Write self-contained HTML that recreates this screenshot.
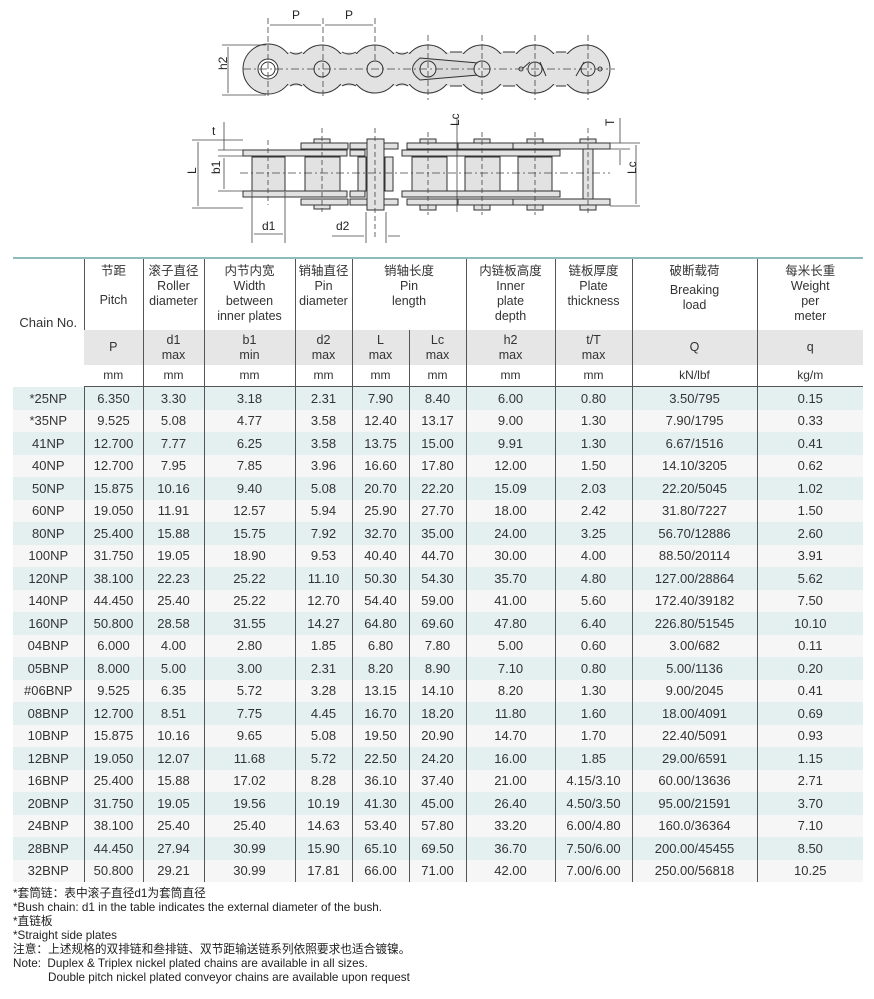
<!DOCTYPE html>
<html><head><meta charset="utf-8"><style>
body{margin:0;background:#fff;width:874px;height:999px;position:relative;overflow:hidden;font-family:"Liberation Sans","Noto Sans CJK SC",sans-serif;color:#333}
svg{position:absolute;left:0;top:0}
table{position:absolute;left:13px;top:257px;border-collapse:collapse;table-layout:fixed;width:850px;border-top:2px solid #8cbcbc}
td{padding:0;text-align:center;vertical-align:middle;border-left:1px solid #555;font-size:13px;line-height:15px;white-space:nowrap}
td:first-child{border-left:none}
.h1 td{height:72px;font-size:12.5px;line-height:15px;vertical-align:top;padding-top:5px;box-sizing:border-box}
.h2 td{height:35px;background:#e6e6e6;font-size:12.5px;line-height:15px}
.h3 td{height:21px;font-size:12px;border-bottom:1px solid #555}
tr.d td{height:22.5px}
tr.a td{background:#e4f0f0}
tr.b td{background:#f6f6f6}
.notes{position:absolute;left:13px;top:887px;font-size:11.7px;line-height:14px;color:#222}
</style></head><body>
<svg width="874" height="250" viewBox="0 0 874 250" font-family="Liberation Sans" font-size="12" fill="#222">
<g stroke="#333" stroke-width="1" fill="#e2e2e2">
<rect x="268" y="52" width="320" height="34" stroke="none"/>
<circle cx="268" cy="69" r="25"/><circle cx="322" cy="69" r="24"/><circle cx="375" cy="69" r="24"/>
<circle cx="428" cy="69" r="24"/><circle cx="482" cy="69" r="24"/><circle cx="535" cy="69" r="24"/><circle cx="586" cy="69" r="24"/>
<rect x="268" y="54" width="318" height="30" stroke="none"/>
<path d="M290 52 Q296 56 302 52 M342 52 Q349 56 356 52 M396 52 Q402 56 408 52 M450 52 L462 52 M503 52 L515 52 M556 52 L566 52" fill="none"/>
<path d="M290 86 Q296 82 302 86 M342 86 Q349 82 356 86 M396 86 Q402 82 408 86 M450 86 L462 86 M503 86 L515 86 M556 86 L566 86" fill="none"/>
<path d="M420 58 L478 63 L478 75 L420 80 Q405 69 420 58Z" fill="#d8d8d8"/>
<circle cx="268" cy="69" r="10" fill="#fff"/><circle cx="268" cy="69" r="7" fill="#fff"/>
<circle cx="322" cy="69" r="8"/><circle cx="375" cy="69" r="8"/><circle cx="428" cy="69" r="8"/><circle cx="482" cy="69" r="8"/>
<circle cx="535" cy="69" r="7"/><circle cx="588" cy="69" r="7"/>
<path d="M522 69 L530 62 M540 62 L546 76 M576 76 L584 62" fill="none"/>
<circle cx="521" cy="69" r="2" fill="#fff"/><circle cx="600" cy="69" r="2" fill="#fff"/>
</g>
<g stroke="#444" stroke-width="0.8" fill="none">
<path d="M243 69 H615" stroke-dasharray="8 3 2 3"/>
<path d="M268 18V96 M323 18V96 M375 18V60 M428 35V100 M482 35V100 M535 35V100 M588 35V100" stroke-dasharray="6 3"/>
<path d="M270 25H321 M325 25H373 M222 45H266 M222 95H266 M228 47V93"/>
</g>
<text x="292" y="19">P</text><text x="345" y="19">P</text>
<text x="222" y="75" transform="rotate(-90 222 70)">h2</text>
<g stroke="#333" stroke-width="1" fill="#e2e2e2">
<rect x="243" y="150" width="104" height="6"/><rect x="243" y="191" width="104" height="6"/>
<rect x="402" y="150" width="158" height="6"/><rect x="402" y="191" width="158" height="6"/>
<rect x="301" y="143" width="47" height="6"/><rect x="301" y="199" width="47" height="6"/>
<rect x="350" y="143" width="48" height="6"/><rect x="350" y="199" width="48" height="6"/>
<rect x="407" y="143" width="97" height="6"/><rect x="407" y="199" width="97" height="6"/>
<rect x="458" y="143" width="95" height="6"/><rect x="458" y="199" width="95" height="6"/>
<rect x="513" y="143" width="97" height="6"/><rect x="513" y="199" width="97" height="6"/>
<rect x="350" y="150" width="15" height="6"/><rect x="350" y="191" width="15" height="6"/>
<rect x="252" y="157" width="33" height="34"/><rect x="305" y="157" width="35" height="34"/>
<rect x="412" y="157" width="35" height="34"/><rect x="465" y="157" width="35" height="34"/><rect x="518" y="157" width="34" height="34"/>
<rect x="358" y="157" width="8" height="34"/><rect x="385" y="157" width="8" height="34"/>
<rect x="367" y="139" width="17" height="71"/>
<rect x="314" y="139" width="16" height="4"/><rect x="314" y="205" width="16" height="4"/>
<rect x="420" y="139" width="16" height="4"/><rect x="420" y="205" width="16" height="5"/>
<rect x="474" y="139" width="16" height="4"/><rect x="474" y="205" width="16" height="5"/>
<rect x="527" y="139" width="16" height="4"/><rect x="527" y="205" width="16" height="5"/>
<rect x="580" y="139" width="16" height="4"/><rect x="580" y="205" width="16" height="5"/>
<rect x="583" y="149" width="10" height="50"/>
</g>
<g stroke="#444" stroke-width="0.8" fill="none">
<path d="M240 173H610" stroke-dasharray="8 3 2 3"/>
<path d="M268 140V205 M322 128V212 M375 128V240 M428 132V215 M482 132V215 M535 132V215 M588 128V215" stroke-dasharray="5 3"/>
<path d="M192 140H243 M192 208H243 M198 142V206 M218 150H243 M218 156H243 M218 191H243 M224 158V189 M224 122V150 M224 158V170"/>
<path d="M252 192V243 M285 192V243 M254 234H283 M366 212V243 M386 212V243 M332 236H364 M388 236H400"/>
<path d="M457 118V212 M610 143H640 M610 206H640 M636 145V204 M620 118V143 M620 150V165 M610 149H630"/>
</g>
<text x="212" y="135">t</text>
<text x="192" y="178" transform="rotate(-90 192 174)">L</text>
<text x="216" y="178" transform="rotate(-90 216 174)">b1</text>
<text x="262" y="230">d1</text><text x="336" y="230">d2</text>
<text x="455" y="130" transform="rotate(-90 455 126)">Lc</text>
<text x="632" y="178" transform="rotate(-90 632 174)">Lc</text>
<text x="610" y="130" transform="rotate(-90 610 126)">T</text>
</svg>

<table>
<colgroup><col style="width:71px"><col style="width:59px"><col style="width:61px"><col style="width:91px"><col style="width:57px"><col style="width:57px"><col style="width:57px"><col style="width:89px"><col style="width:77px"><col style="width:125px"><col style="width:106px"></colgroup>
<tr class="h1"><td rowspan="3" style="vertical-align:middle;padding-top:0;font-size:13px">Chain No.</td>
<td>节距<br><span style="display:inline-block;margin-top:14px">Pitch</span></td><td>滚子直径<br>Roller<br>diameter</td><td>内节内宽<br>Width<br>between<br>inner plates</td><td>销轴直径<br>Pin<br>diameter</td><td colspan="2">销轴长度<br>Pin<br>length</td><td>内链板高度<br>Inner<br>plate<br>depth</td><td>链板厚度<br>Plate<br>thickness</td><td>破断载荷<br><span style="display:inline-block;margin-top:4px">Breaking<br>load</span></td><td>每米长重<br>Weight<br>per<br>meter</td></tr>
<tr class="h2"><td>P</td><td>d1<br>max</td><td>b1<br>min</td><td>d2<br>max</td><td>L<br>max</td><td>Lc<br>max</td><td>h2<br>max</td><td>t/T<br>max</td><td>Q</td><td>q</td></tr>
<tr class="h3"><td>mm</td><td>mm</td><td>mm</td><td>mm</td><td>mm</td><td>mm</td><td>mm</td><td>mm</td><td>kN/lbf</td><td>kg/m</td></tr>
<tr class="d a"><td>*25NP</td><td>6.350</td><td>3.30</td><td>3.18</td><td>2.31</td><td>7.90</td><td>8.40</td><td>6.00</td><td>0.80</td><td>3.50/795</td><td>0.15</td></tr>
<tr class="d b"><td>*35NP</td><td>9.525</td><td>5.08</td><td>4.77</td><td>3.58</td><td>12.40</td><td>13.17</td><td>9.00</td><td>1.30</td><td>7.90/1795</td><td>0.33</td></tr>
<tr class="d a"><td>41NP</td><td>12.700</td><td>7.77</td><td>6.25</td><td>3.58</td><td>13.75</td><td>15.00</td><td>9.91</td><td>1.30</td><td>6.67/1516</td><td>0.41</td></tr>
<tr class="d b"><td>40NP</td><td>12.700</td><td>7.95</td><td>7.85</td><td>3.96</td><td>16.60</td><td>17.80</td><td>12.00</td><td>1.50</td><td>14.10/3205</td><td>0.62</td></tr>
<tr class="d a"><td>50NP</td><td>15.875</td><td>10.16</td><td>9.40</td><td>5.08</td><td>20.70</td><td>22.20</td><td>15.09</td><td>2.03</td><td>22.20/5045</td><td>1.02</td></tr>
<tr class="d b"><td>60NP</td><td>19.050</td><td>11.91</td><td>12.57</td><td>5.94</td><td>25.90</td><td>27.70</td><td>18.00</td><td>2.42</td><td>31.80/7227</td><td>1.50</td></tr>
<tr class="d a"><td>80NP</td><td>25.400</td><td>15.88</td><td>15.75</td><td>7.92</td><td>32.70</td><td>35.00</td><td>24.00</td><td>3.25</td><td>56.70/12886</td><td>2.60</td></tr>
<tr class="d b"><td>100NP</td><td>31.750</td><td>19.05</td><td>18.90</td><td>9.53</td><td>40.40</td><td>44.70</td><td>30.00</td><td>4.00</td><td>88.50/20114</td><td>3.91</td></tr>
<tr class="d a"><td>120NP</td><td>38.100</td><td>22.23</td><td>25.22</td><td>11.10</td><td>50.30</td><td>54.30</td><td>35.70</td><td>4.80</td><td>127.00/28864</td><td>5.62</td></tr>
<tr class="d b"><td>140NP</td><td>44.450</td><td>25.40</td><td>25.22</td><td>12.70</td><td>54.40</td><td>59.00</td><td>41.00</td><td>5.60</td><td>172.40/39182</td><td>7.50</td></tr>
<tr class="d a"><td>160NP</td><td>50.800</td><td>28.58</td><td>31.55</td><td>14.27</td><td>64.80</td><td>69.60</td><td>47.80</td><td>6.40</td><td>226.80/51545</td><td>10.10</td></tr>
<tr class="d b"><td>04BNP</td><td>6.000</td><td>4.00</td><td>2.80</td><td>1.85</td><td>6.80</td><td>7.80</td><td>5.00</td><td>0.60</td><td>3.00/682</td><td>0.11</td></tr>
<tr class="d a"><td>05BNP</td><td>8.000</td><td>5.00</td><td>3.00</td><td>2.31</td><td>8.20</td><td>8.90</td><td>7.10</td><td>0.80</td><td>5.00/1136</td><td>0.20</td></tr>
<tr class="d b"><td>#06BNP</td><td>9.525</td><td>6.35</td><td>5.72</td><td>3.28</td><td>13.15</td><td>14.10</td><td>8.20</td><td>1.30</td><td>9.00/2045</td><td>0.41</td></tr>
<tr class="d a"><td>08BNP</td><td>12.700</td><td>8.51</td><td>7.75</td><td>4.45</td><td>16.70</td><td>18.20</td><td>11.80</td><td>1.60</td><td>18.00/4091</td><td>0.69</td></tr>
<tr class="d b"><td>10BNP</td><td>15.875</td><td>10.16</td><td>9.65</td><td>5.08</td><td>19.50</td><td>20.90</td><td>14.70</td><td>1.70</td><td>22.40/5091</td><td>0.93</td></tr>
<tr class="d a"><td>12BNP</td><td>19.050</td><td>12.07</td><td>11.68</td><td>5.72</td><td>22.50</td><td>24.20</td><td>16.00</td><td>1.85</td><td>29.00/6591</td><td>1.15</td></tr>
<tr class="d b"><td>16BNP</td><td>25.400</td><td>15.88</td><td>17.02</td><td>8.28</td><td>36.10</td><td>37.40</td><td>21.00</td><td>4.15/3.10</td><td>60.00/13636</td><td>2.71</td></tr>
<tr class="d a"><td>20BNP</td><td>31.750</td><td>19.05</td><td>19.56</td><td>10.19</td><td>41.30</td><td>45.00</td><td>26.40</td><td>4.50/3.50</td><td>95.00/21591</td><td>3.70</td></tr>
<tr class="d b"><td>24BNP</td><td>38.100</td><td>25.40</td><td>25.40</td><td>14.63</td><td>53.40</td><td>57.80</td><td>33.20</td><td>6.00/4.80</td><td>160.0/36364</td><td>7.10</td></tr>
<tr class="d a"><td>28BNP</td><td>44.450</td><td>27.94</td><td>30.99</td><td>15.90</td><td>65.10</td><td>69.50</td><td>36.70</td><td>7.50/6.00</td><td>200.00/45455</td><td>8.50</td></tr>
<tr class="d b"><td>32BNP</td><td>50.800</td><td>29.21</td><td>30.99</td><td>17.81</td><td>66.00</td><td>71.00</td><td>42.00</td><td>7.00/6.00</td><td>250.00/56818</td><td>10.25</td></tr>
</table>
<div class="notes">*套筒链：表中滚子直径d1为套筒直径<br>*Bush chain: d1 in the table indicates the external diameter of the bush.<br>*直链板<br>*Straight side plates<br>注意：上述规格的双排链和叁排链、双节距输送链系列依照要求也适合镀镍。<br>Note:&nbsp; Duplex &amp; Triplex nickel plated chains are available in all sizes.<br><span style="padding-left:35px">Double pitch nickel plated conveyor chains are available upon request</span></div>
</body></html>
